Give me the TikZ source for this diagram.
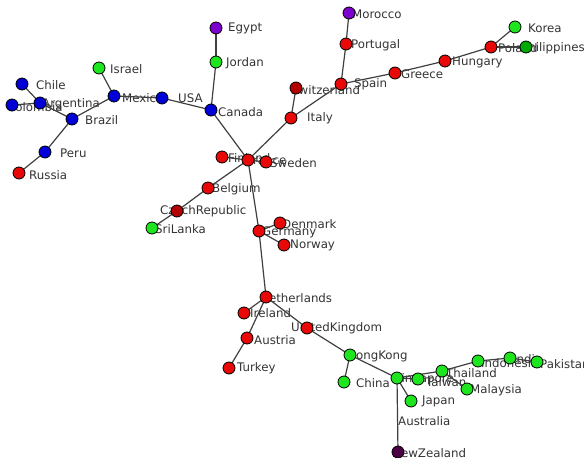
\documentclass[tikz,border=0pt]{standalone}
\usepackage{fontspec}
\setmainfont{DejaVu Sans}
\usetikzlibrary{positioning}
\pgfdeclarelayer{labels}
\pgfdeclarelayer{edges}
\pgfsetlayers{labels,edges,main}

\definecolor{cred}{RGB}{232,8,8}
\definecolor{cdred}{RGB}{180,0,0}
\definecolor{cblue}{RGB}{0,0,215}
\definecolor{cgreen}{RGB}{30,230,30}
\definecolor{cdgreen}{RGB}{0,170,0}
\definecolor{cpurple}{RGB}{125,0,205}
\definecolor{cdpurple}{RGB}{75,0,70}

\begin{document}
\begin{tikzpicture}[x=1pt,y=-1pt,
    country/.style={circle,draw=black,line width=0.8pt,fill=#1,minimum size=12pt,inner sep=0pt},
    lbl/.style={anchor=west,inner sep=0pt,text=black!80,font=\fontsize{11.8}{12}\selectfont},
    edge/.style={draw=black!75,line width=1.2pt}]
    \useasboundingbox (0,0) rectangle (584,458);

    % countries: name / node x / node y / label x / label y
    \foreach \n/\x/\y/\lx/\ly in {Chile/22/84/36/85, Colombia/12/105/7/107, Argentina/40/103/42/104,
        Brazil/72/119/85/120, Peru/45/152/60/153, Mexico/114/96/122/98, USA/162/98/178/98, Canada/211/110/218/112}
    {
        \node[country=cblue] (\n) at (\x,\y) {};
        \begin{pgfonlayer}{labels}\node[lbl] (l\n) at (\lx,\ly) {\n};\end{pgfonlayer}
    }
    \foreach \n/\x/\y/\lx/\ly in {Russia/19/173/29/175, Portugal/346/44/351/45, Spain/341/84/354/84,
        Italy/291/118/307/118, Greece/395/73/401/74, Hungary/445/61/452/62, Poland/491/47/498/48,
        Finland/222/157/228/158, France/248/160/247/160, Sweden/266/162/270/163, Belgium/208/188/212/189,
        Denmark/280/223/282/224, Germany/259/231/262/232, Norway/284/245/290/245, Netherlands/266/297/260/298,
        Ireland/244/313/250/313, Austria/247/338/254/340, Turkey/229/368/237/368, UnitedKingdom/307/328/291/328}
    {
        \node[country=cred] (\n) at (\x,\y) {};
        \begin{pgfonlayer}{labels}\node[lbl] (l\n) at (\lx,\ly) {\n};\end{pgfonlayer}
    }
    \foreach \n/\x/\y/\lx/\ly in {Switzerland/296/88/291/90, CzechRepublic/177/211/160/211}
    {
        \node[country=cdred] (\n) at (\x,\y) {};
        \begin{pgfonlayer}{labels}\node[lbl] (l\n) at (\lx,\ly) {\n};\end{pgfonlayer}
    }
    \foreach \n/\x/\y/\lx/\ly in {Israel/99/68/110/69, Jordan/216/62/226/63, Korea/515/27/528/28,
        SriLanka/152/228/155/229, HongKong/350/355/347/356, China/344/382/356/383, Singapore/397/378/394/379,
        Taiwan/418/379/426/382, Thailand/442/371/446/373, Malaysia/467/389/470/390, Japan/411/401/422/401,
        Indonesia/478/361/481/363, India/510/358/513/359, Pakistan/537/362/540/364}
    {
        \node[country=cgreen] (\n) at (\x,\y) {};
        \begin{pgfonlayer}{labels}\node[lbl] (l\n) at (\lx,\ly) {\n};\end{pgfonlayer}
    }
    \node[country=cdgreen] (Philippines) at (526,47) {};
    \node[country=cpurple] (Egypt) at (216,28) {};
    \node[country=cpurple] (Morocco) at (349,13) {};
    \node[country=cdpurple] (NewZealand) at (398,452) {};
    \begin{pgfonlayer}{labels}
        \node[lbl] (lPhilippines) at (521,48) {Philippines};
        \node[lbl] (lEgypt) at (228,28) {Egypt};
        \node[lbl] (lMorocco) at (352,14) {Morocco};
        \node[lbl] (lNewZealand) at (392,453) {NewZealand};
        \node[lbl] (lAustralia) at (398,421) {Australia};
    \end{pgfonlayer}

    % tree edges
    \begin{pgfonlayer}{edges}
    \foreach \a/\b in {Chile/Argentina, Colombia/Argentina, Argentina/Brazil, Brazil/Peru, Peru/Russia,
        Brazil/Mexico, Mexico/Israel, Mexico/USA, USA/Canada, Canada/Jordan, Jordan/Egypt, Canada/France,
        France/Italy, Italy/Switzerland, Italy/Spain, Spain/Portugal, Portugal/Morocco, Spain/Greece,
        Greece/Hungary, Hungary/Poland, Poland/Korea, Poland/Philippines, France/Finland, France/Sweden,
        France/Belgium, Belgium/CzechRepublic, CzechRepublic/SriLanka, France/Germany, Germany/Denmark,
        Germany/Norway, Germany/Netherlands, Netherlands/Ireland, Netherlands/Austria, Austria/Turkey,
        Netherlands/UnitedKingdom, UnitedKingdom/HongKong, HongKong/China, HongKong/Singapore,
        Singapore/Taiwan, Singapore/Thailand, Singapore/Japan, Singapore/NewZealand, Thailand/Malaysia,
        Thailand/Indonesia, Indonesia/India, India/Pakistan}
        \draw[edge] (\a.center) -- (\b.center);
    \end{pgfonlayer}
\end{tikzpicture}
\end{document}
